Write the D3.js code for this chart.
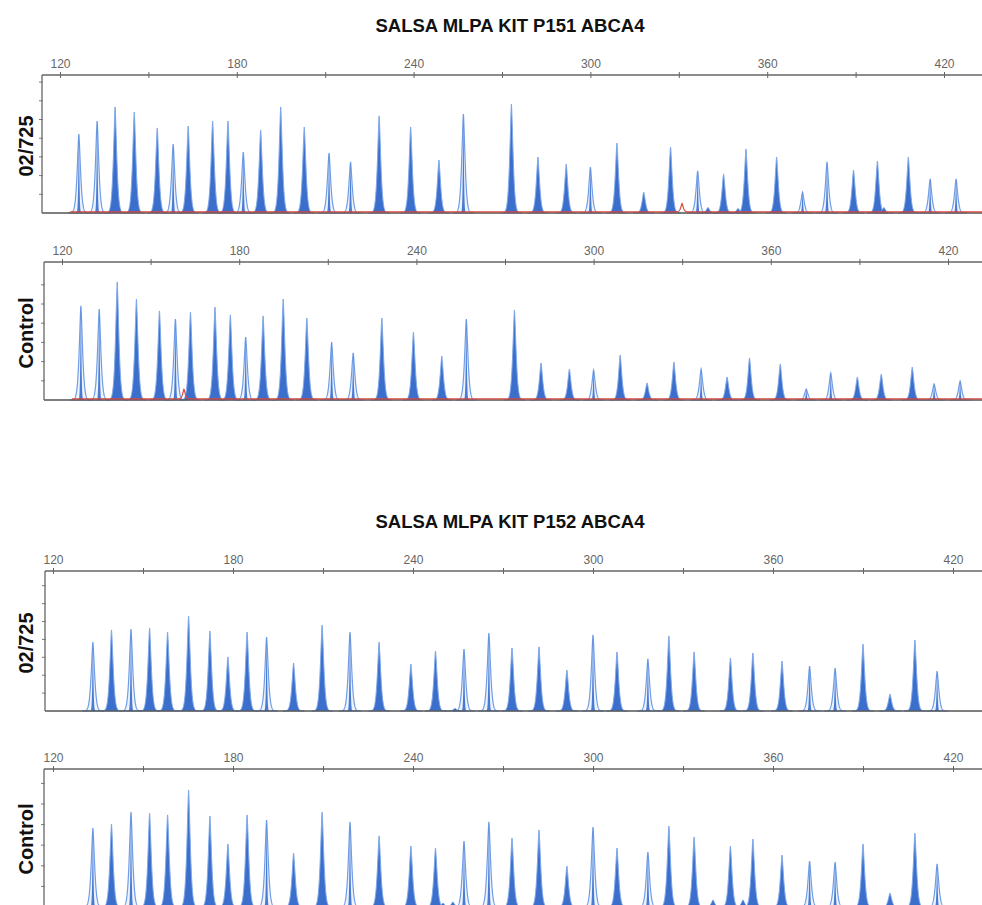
<!DOCTYPE html>
<html><head><meta charset="utf-8">
<script src="https://cdn.jsdelivr.net/npm/d3@7"></script>
<style>body{margin:0;background:#fff;} svg{display:block;}</style>
</head><body>
<svg id="chart" width="982" height="905"></svg>
<script>
// ---------- data ----------
const titles = ["SALSA MLPA KIT P151 ABCA4", "SALSA MLPA KIT P152 ABCA4"];
const sampleLabels = ["02/725", "Control"];
const axisTicks = [120, 150, 180, 210, 240, 270, 300, 330, 360, 390, 420];
const axisLabels = [120, 180, 240, 300, 360, 420];
const yTickValues = [1, 2, 3, 4, 5, 6, 7];

// P151 probe sizes (nt) and peak heights (arbitrary units, 1 = one y tick)
const p151Sizes = [126.4, 132.6, 138.7, 145.2, 153.0, 158.4, 163.5, 171.8, 177.0, 182.2,
  188.1, 194.9, 202.9, 211.3, 218.6, 228.3, 239.0, 248.6, 256.9, 273.2,
  282.2, 291.8, 300.0, 309.0, 318.1, 327.2, 336.4, 345.2, 352.8, 363.2,
  372.0, 380.3, 389.3, 397.4, 407.9, 415.3, 424.1];
const p151Patient = [4.22, 4.92, 5.67, 5.40, 4.55, 3.69, 4.65, 4.92, 4.92, 3.26,
  4.44, 5.67, 4.60, 3.21, 2.73, 5.19, 4.60, 2.83, 5.29, 5.83,
  2.99, 2.62, 2.46, 3.74, 1.12, 3.53, 2.25, 2.09, 3.42, 2.99,
  1.12, 2.73, 2.30, 2.78, 2.99, 1.82, 1.82];
const p151Control = [4.90, 4.74, 6.15, 5.26, 4.64, 4.22, 4.58, 4.84, 4.43, 3.28,
  4.38, 5.26, 4.27, 3.02, 2.45, 4.27, 3.54, 2.29, 4.22, 4.69,
  1.93, 1.61, 1.56, 2.34, 0.89, 1.98, 1.61, 1.20, 2.19, 1.88,
  0.57, 1.41, 1.20, 1.35, 1.72, 0.83, 0.99];
const p151Hollow = [126.4, 132.6, 158.4, 182.2, 211.3, 218.6, 256.9, 300.0, 336.4, 372.0, 380.3, 415.3, 424.1];

// P152 probe sizes and heights
const p152Sizes = [133.3, 139.5, 146.0, 152.2, 158.2, 165.2, 172.3, 178.3, 184.7, 191.2,
  200.2, 209.7, 219.0, 228.7, 239.3, 247.5, 257.0, 265.3, 273.0, 282.0,
  291.3, 300.0, 308.0, 318.3, 325.3, 333.7, 345.8, 353.3, 363.0, 372.2,
  380.7, 390.0, 399.0, 407.3, 414.7];
const p152Patient = [3.85, 4.53, 4.58, 4.64, 4.41, 5.31, 4.47, 3.02, 4.41, 4.13,
  2.68, 4.80, 4.41, 3.85, 2.63, 3.35, 3.46, 4.36, 3.52, 3.58,
  2.29, 4.25, 3.30, 2.91, 4.19, 3.30, 2.96, 3.24, 2.79, 2.51,
  2.40, 3.74, 0.95, 3.97, 2.23];
const p152Control = [3.83, 4.03, 4.61, 4.56, 4.47, 5.68, 4.42, 3.06, 4.47, 4.22,
  2.62, 4.61, 4.13, 3.45, 2.96, 2.86, 3.20, 4.13, 3.35, 3.74,
  1.99, 3.88, 2.86, 2.67, 3.93, 3.40, 2.96, 3.30, 2.52, 2.23,
  2.18, 3.06, 0.68, 3.59, 2.09];
const p152Hollow = [133.3, 146.0, 191.2, 219.0, 257.0, 265.3, 300.0, 318.3, 372.2, 380.7, 414.7];

// minor peaks: [size, height]
const p151PatientRed = [[331.1, 0.45]];
const p151ControlRed = [[161.3, 0.5]];
const p151PatientMinor = [[339.9, 0.3], [350.1, 0.25], [399.6, 0.3]];
const p151ControlMinor = [];
const p152PatientMinor = [[254.0, 0.15]];
const p152ControlMinor = [[250.0, 0.2], [253.3, 0.25], [340.0, 0.35], [350.0, 0.35]];

// ---------- layout ----------
const panels = [
  {title: titles[0], label: sampleLabels[0], sizes: p151Sizes, heights: p151Patient, hollow: p151Hollow,
   red: p151PatientRed, minor: p151PatientMinor, top: 75, base: 213, unit: 18.7, x120: 60, x420: 944, left: 42, titleY: 32},
  {label: sampleLabels[1], sizes: p151Sizes, heights: p151Control, hollow: p151Hollow,
   red: p151ControlRed, minor: p151ControlMinor, top: 262, base: 400, unit: 19.2, x120: 62, x420: 948, left: 44},
  {title: titles[1], label: sampleLabels[0], sizes: p152Sizes, heights: p152Patient, hollow: p152Hollow,
   red: null, minor: p152PatientMinor, top: 571, base: 711, unit: 17.9, x120: 53, x420: 953, left: 45, titleY: 528},
  {label: sampleLabels[1], sizes: p152Sizes, heights: p152Control, hollow: p152Hollow,
   red: null, minor: p152ControlMinor, top: 769, base: 907, unit: 20.6, x120: 53, x420: 953, left: 44}
];

const W = 982;
const svg = d3.select("#chart");
const PA = 0.8;
const kern = (dx, a) => Math.exp(-Math.pow(Math.abs(dx) / a, 1.45));

panels.forEach(p => {
  const x = d3.scaleLinear().domain([120, 420]).range([p.x120, p.x420]);
  const y = d3.scaleLinear().domain([0, 1]).range([p.base, p.base - p.unit]);
  const xMax = x.invert(W);
  const g = svg.append("g");

  if (p.title) {
    svg.append("text").attr("x", 510).attr("y", p.titleY).attr("text-anchor", "middle")
      .attr("font-family", "Liberation Sans, Arial, sans-serif").attr("font-weight", "bold")
      .attr("font-size", 18.5).attr("fill", "#111").text(p.title);
  }

  // sample label
  svg.append("text")
    .attr("transform", `translate(33,${(p.top + Math.min(p.base, 905)) / 2 + 2}) rotate(-90)`)
    .attr("text-anchor", "middle").attr("font-family", "Liberation Sans, Arial, sans-serif")
    .attr("font-weight", "bold").attr("font-size", 20).attr("fill", "#111").text(p.label);

  // peaks
  const area = d3.area().x(d => x(d[0])).y0(y(0)).y1(d => y(d[1]));
  const offs = d3.range(-3.5, 3.501, 0.05);
  const peakG = g.append("g");
  p.sizes.forEach((s, i) => {
    const h = p.heights[i];
    const hollow = p.hollow.includes(s);
    const pts = offs.map(dx => [s + dx, h * kern(dx, PA)]);
    if (hollow) {
      peakG.append("path").attr("d", area(pts)).attr("fill", "#eef3fc")
        .attr("stroke", "#6f9de6").attr("stroke-width", 1.2);
      const inner = offs.map(dx => [s + dx * 0.3, h * kern(dx, PA)]);
      peakG.append("path").attr("d", area(inner)).attr("fill", "#4a7bd2").attr("stroke", "none");
    } else {
      peakG.append("path").attr("d", area(pts)).attr("fill", "#3c6fcb")
        .attr("stroke", "#7ea8ea").attr("stroke-width", 1);
    }
  });
  p.minor.forEach(([s, h]) => {
    const pts = offs.map(dx => [s + dx, h * kern(dx, PA)]);
    peakG.append("path").attr("d", area(pts)).attr("fill", "#3c6fcb").attr("stroke", "#7ea8ea").attr("stroke-width", 0.8);
  });

  // baseline
  g.append("line").attr("x1", p.left).attr("x2", W).attr("y1", p.base).attr("y2", p.base)
    .attr("stroke", "#555").attr("stroke-width", 1.6);

  // red trace
  if (p.red) {
    const tr = d3.range(x.invert(p.x120 + 10), xMax, 0.1).map(s => {
      let v = 0.06;
      p.red.forEach(([rs, rh]) => { v += rh * kern(s - rs, 0.6); });
      return [s, v];
    });
    g.append("path").attr("d", d3.line().x(d => x(d[0])).y(d => y(d[1]))(tr))
      .attr("fill", "none").attr("stroke", "#d9473f").attr("stroke-width", 1.2);
  }

  // left axis
  g.append("line").attr("x1", p.left).attr("x2", p.left).attr("y1", p.top).attr("y2", Math.min(p.base, 905))
    .attr("stroke", "#666").attr("stroke-width", 1.3);
  yTickValues.filter(t => y(t) - p.top >= 5).forEach(t => {
    g.append("line").attr("x1", p.left - 3).attr("x2", p.left + 1).attr("y1", y(t)).attr("y2", y(t))
      .attr("stroke", "#777").attr("stroke-width", 1);
  });

  // top axis
  const ax = d3.axisTop(x).tickValues(axisTicks).tickSize(3)
    .tickFormat(d => axisLabels.includes(d) ? d : "");
  const axG = g.append("g").attr("transform", `translate(0,${p.top})`).call(ax);
  axG.select(".domain").remove();
  axG.selectAll(".tick line").attr("y1", 3).attr("y2", -3).attr("stroke", "#666");
  axG.selectAll(".tick text").attr("y", -7).attr("dy", 0).attr("fill", "#666")
    .attr("font-family", "Liberation Sans, Arial, sans-serif").attr("font-size", 12);
  g.append("line").attr("x1", p.left).attr("x2", W).attr("y1", p.top).attr("y2", p.top)
    .attr("stroke", "#666").attr("stroke-width", 1.5);
});
</script>
</body></html>
